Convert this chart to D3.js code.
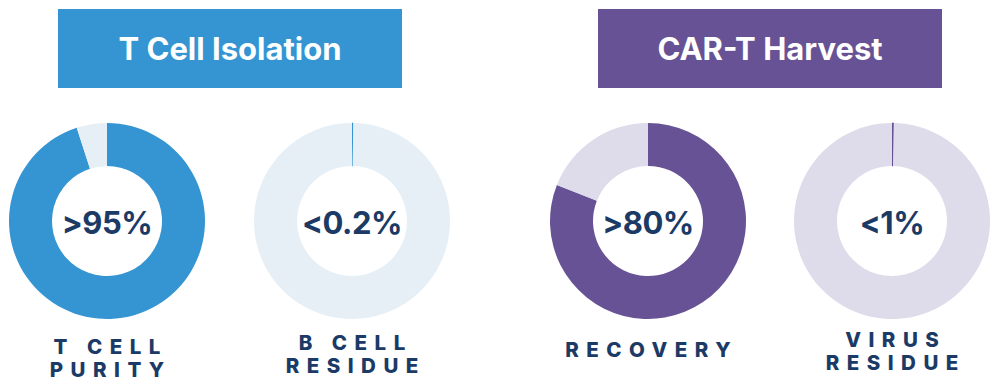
<!DOCTYPE html>
<html>
<head>
<meta charset="utf-8">
<script src="https://cdn.jsdelivr.net/npm/d3@7"></script>
<style>
  body { margin: 0; background: #fff; }
  svg { display: block; font-family: Inter, Lato, sans-serif; }
</style>
</head>
<body>
<svg id="chart" width="1000" height="386"></svg>
<script>
// data
const groups = ["T Cell Isolation", "CAR-T Harvest"];
const donutLabels = [["T CELL", "PURITY"], ["B CELL", "RESIDUE"], ["RECOVERY"], ["VIRUS", "RESIDUE"]];
const centerText = [">95%", "<0.2%", ">80%", "<1%"];
const shareValues = [95, 0.2, 81, 0.3];   // filled share, %
const donutGroup = [0, 0, 1, 1];

// look
const groupColor = ["#3595d2", "#665294"];
const restColor = ["#e6eff5", "#dedbea"];
const navy = "#1b3a66";

const width = 1000, height = 386;
const svg = d3.select("svg#chart");

// header boxes
const headerX = d3.scalePoint().domain(d3.range(groups.length)).range([230, 770]);
const boxW = 344, boxH = 79, boxTop = 9;

const head = svg.append("g").selectAll("g")
  .data(groups)
  .enter()
  .append("g")
  .attr("transform", (d, i) => `translate(${headerX(i)},0)`);

head.append("rect")
  .attr("x", -boxW / 2)
  .attr("y", boxTop)
  .attr("width", boxW)
  .attr("height", boxH)
  .attr("fill", (d, i) => groupColor[i]);

head.append("text")
  .attr("y", boxTop + boxH / 2 + 11)
  .attr("text-anchor", "middle")
  .attr("fill", "#fff")
  .attr("font-size", 31)
  .attr("font-weight", 700)
  .attr("letter-spacing", 0)
  .text(d => d);

// donuts
const cx = [107, 352, 648, 892];
const cy = 221;
const outerR = 98, innerR = 55;
const labelTop = [354, 350, 357, 347];   // first line baseline
const lineGap = 23;

const pie = d3.pie().sort(null).value(d => d);
const arc = d3.arc().innerRadius(innerR).outerRadius(outerR);

const donut = svg.append("g").selectAll("g")
  .data(shareValues)
  .enter()
  .append("g")
  .attr("transform", (d, i) => `translate(${cx[i]},${cy})`);

donut.selectAll("path")
  .data((d, i) => pie([d, 100 - d]).map(p => ({...p, g: donutGroup[i]})))
  .enter()
  .append("path")
  .attr("d", arc)
  .attr("fill", (d, j) => j === 0 ? groupColor[d.g] : restColor[d.g])
  .attr("stroke", (d, j) => j === 0 ? groupColor[d.g] : "none")
  .attr("stroke-width", (d, j) => j === 0 && d.data < 1 ? 0.6 : 0);

donut.append("text")
  .attr("y", 12.5)
  .attr("text-anchor", "middle")
  .attr("fill", navy)
  .attr("font-size", 31)
  .attr("font-weight", 700)
  .attr("letter-spacing", -0.5)
  .text((d, i) => centerText[i]);

// labels underneath
const spacing = 7.5;
svg.append("g").selectAll("text")
  .data(donutLabels)
  .enter()
  .append("text")
  .attr("text-anchor", "middle")
  .attr("fill", navy)
  .attr("font-size", 20.5)
  .attr("font-weight", 800)
  .attr("letter-spacing", spacing)
  .selectAll("tspan")
  .data((d, i) => d.map((t, k) => ({t, i, k})))
  .enter()
  .append("tspan")
  .attr("x", d => cx[d.i] + spacing / 2)
  .attr("y", d => labelTop[d.i] + d.k * lineGap)
  .text(d => d.t);
</script>
</body>
</html>
